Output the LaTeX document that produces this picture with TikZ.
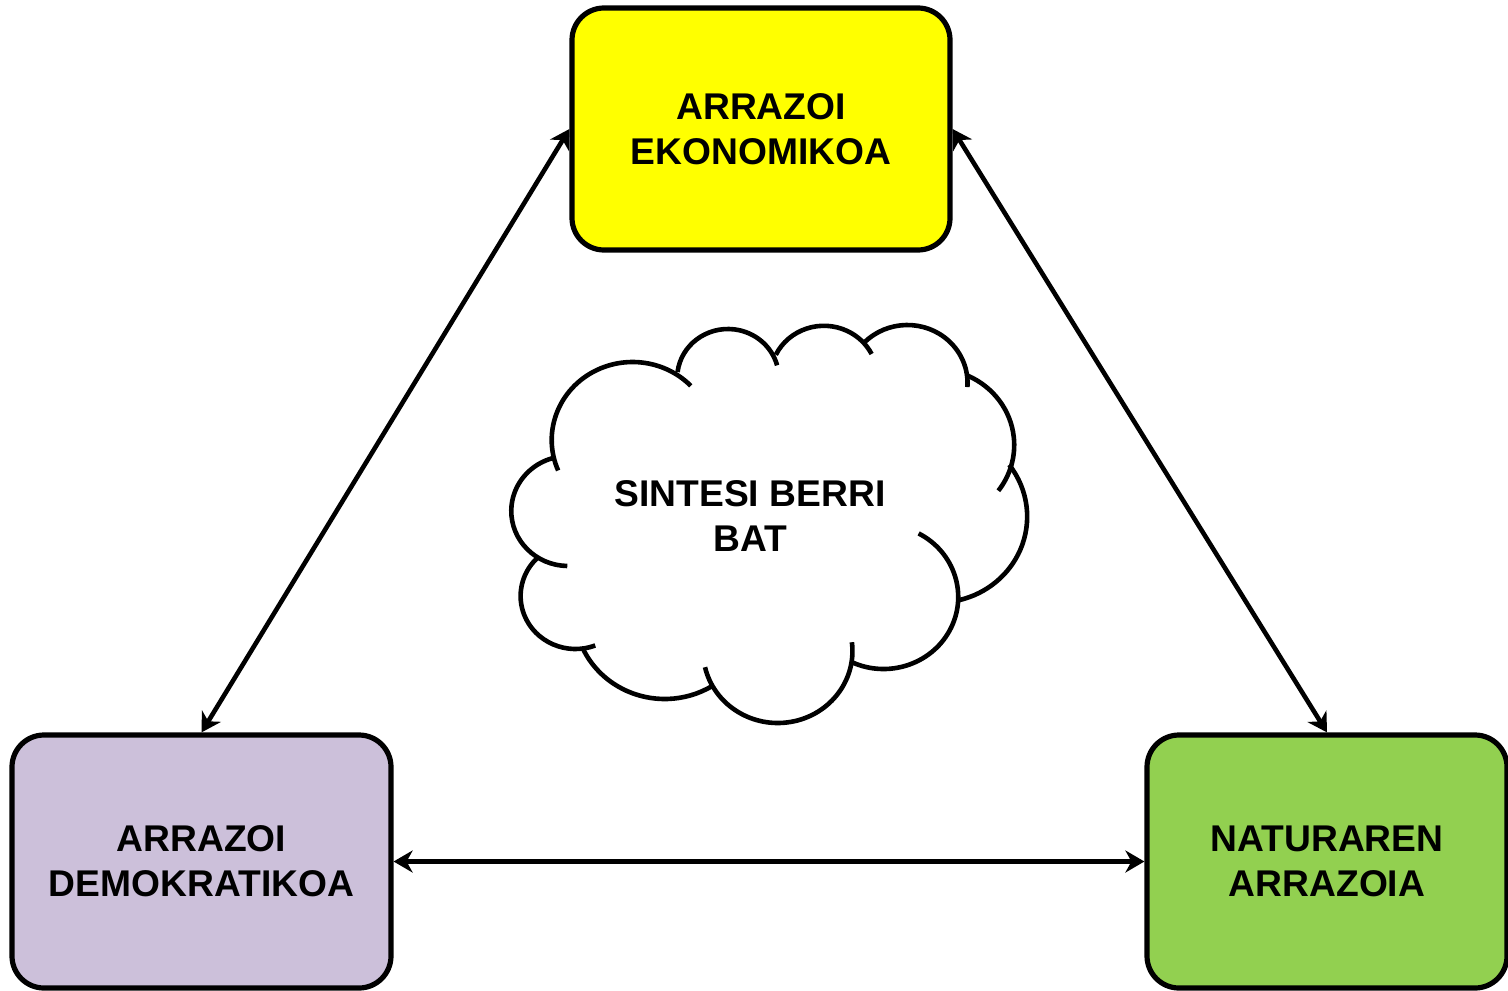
\documentclass[tikz,border=0pt]{standalone}
\usepackage{fontspec}
\setmainfont{Liberation Sans}
\usetikzlibrary{arrows.meta}
\tikzset{every picture/.style={line width=0.75pt}}

\begin{document}
\begin{tikzpicture}[x=0.5pt,y=0.5pt,yscale=-1,xscale=1,
  reason/.style={draw, line width=2.6pt, rounded corners=16pt, align=center, inner sep=0pt, font=\fontsize{18.6}{22.5}\selectfont\bfseries},
  puff/.style={line width=2.3pt},
  link/.style={line width=2.3pt, {Stealth[length=9.5pt,width=11pt,inset=3pt]}-{Stealth[length=9.5pt,width=11pt,inset=3pt]}}]
\path [use as bounding box] (0,0) rectangle (1508,990);

%Shape: Rounded Rect [top]
\node [reason, fill={rgb, 255:red, 255; green, 255; blue, 0 }, minimum width=189pt, minimum height=121pt] (ekon) at (761,129) {ARRAZOI\\EKONOMIKOA};
%Shape: Rounded Rect [left]
\node [reason, fill={rgb, 255:red, 204; green, 192; blue, 218 }, minimum width=189.5pt, minimum height=126.5pt] (demo) at (201.5,861.5) {ARRAZOI\\DEMOKRATIKOA};
%Shape: Rounded Rect [right]
\node [reason, fill={rgb, 255:red, 146; green, 208; blue, 80 }, minimum width=180pt, minimum height=126.5pt] (natur) at (1327,861.5) {NATURAREN\\ARRAZOIA};

%Shape: Cloud
\begin{scope}[shift={(560,0)}, xscale=1.037, shift={(-560,0)}]
\draw [puff] (630,440) ++(157:78) arc [start angle=157, end angle=316, radius=78];
\draw [puff] (722,378) ++(187:49) arc [start angle=187, end angle=345, radius=49];
\draw [puff] (814.5,377.4) ++(206:51.6) arc [start angle=206, end angle=333, radius=51.6];
\draw [puff] (895,383) ++(224:58) arc [start angle=224, end angle=364, radius=58];
\draw [puff] (922,445) ++(294:76) arc [start angle=294, end angle=397, radius=76];
\draw [puff] (924.5,516.6) ++(323:86) arc [start angle=323, end angle=436, radius=86];
\draw [puff] (872,597) ++(298:72) arc [start angle=298, end angle=475.5, radius=72];
\draw [puff] (770,651) ++(-7:72) arc [start angle=-7, end angle=167, radius=72];
\draw [puff] (661,612) ++(58:87) arc [start angle=58, end angle=155.5, radius=87];
\draw [puff] (575,596) ++(69:53) arc [start angle=69, end angle=225, radius=53];
\draw [puff] (568,511) ++(91:55) arc [start angle=91, end angle=256.5, radius=55];
\end{scope}

% Text Node
\node [align=center, inner sep=0pt, font=\fontsize{18.6}{22.5}\selectfont\bfseries] (sintesi) at (750,516) {SINTESI BERRI\\BAT};

%Straight Lines
\draw [link] (ekon.west) -- (demo.north);
%Straight Lines
\draw [link] (ekon.east) -- (natur.north);
%Straight Lines
\draw [link] (demo.east) -- (natur.west);

\end{tikzpicture}
\end{document}
